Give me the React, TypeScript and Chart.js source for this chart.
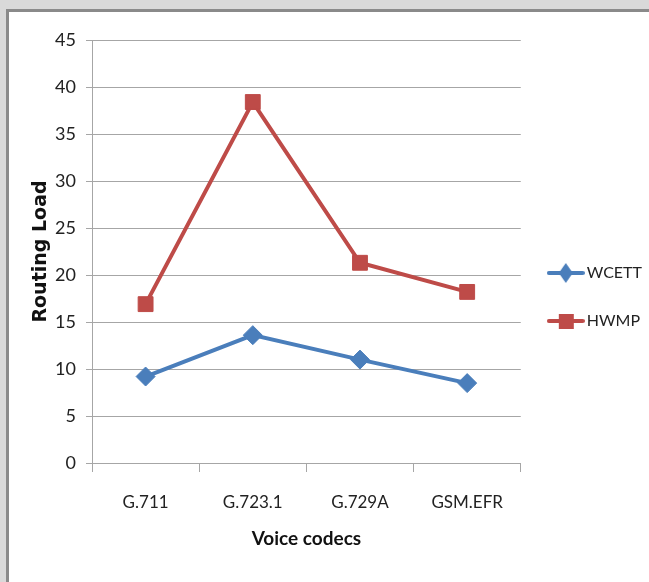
import React, { useEffect, useRef } from "react";
import { Chart, registerables } from "chart.js";

Chart.register(...registerables);

const categories = ["G.711", "G.723.1", "G.729A", "GSM.EFR"];
const wcettValues = [9.2, 13.6, 11.0, 8.5];
const hwmpValues = [16.9, 38.4, 21.3, 18.2];
const yTicks = [0, 5, 10, 15, 20, 25, 30, 35, 40, 45];

const BLUE = "#4A7EBB";
const RED = "#BE4B48";
const GRID = "#a6a6a6";
const FONT = "Lato, 'Liberation Sans', sans-serif";

function legendIcon(color: string, marker: "diamond" | "square"): HTMLCanvasElement {
  const c = document.createElement("canvas");
  c.width = 38;
  c.height = 22;
  const ctx = c.getContext("2d")!;
  ctx.strokeStyle = color;
  ctx.lineWidth = 4;
  ctx.lineCap = "round";
  ctx.beginPath();
  ctx.moveTo(2, 11);
  ctx.lineTo(36, 11);
  ctx.stroke();
  ctx.fillStyle = color;
  ctx.beginPath();
  if (marker === "diamond") {
    ctx.moveTo(19, 1);
    ctx.lineTo(26, 11);
    ctx.lineTo(19, 21);
    ctx.lineTo(12, 11);
    ctx.closePath();
  } else {
    ctx.rect(12, 4, 15, 15);
  }
  ctx.fill();
  return c;
}

export default function App() {
  const canvasRef = useRef<HTMLCanvasElement | null>(null);

  useEffect(() => {
    if (!canvasRef.current) return;
    const icons = [legendIcon(BLUE, "diamond"), legendIcon(RED, "square")];
    const chart = new Chart(canvasRef.current, {
      type: "line",
      data: {
        labels: categories,
        datasets: [
          {
            label: "WCETT",
            data: wcettValues,
            borderColor: BLUE,
            backgroundColor: BLUE,
            borderWidth: 4,
            pointStyle: "rectRot",
            pointRadius: 9.5,
            pointHoverRadius: 9.5,
            pointBorderWidth: 1,
            tension: 0,
          },
          {
            label: "HWMP",
            data: hwmpValues,
            borderColor: RED,
            backgroundColor: RED,
            borderWidth: 4,
            pointStyle: "rect",
            pointRadius: 10.5,
            pointHoverRadius: 10.5,
            pointBorderWidth: 1,
            tension: 0,
          },
        ],
      },
      options: {
        animation: false,
        responsive: true,
        maintainAspectRatio: false,
        layout: { padding: { top: 0, left: 0, right: -3, bottom: 0 } },
        plugins: {
          tooltip: { enabled: false },
          legend: {
            position: "right",
            labels: {
              usePointStyle: true,
              pointStyleWidth: 26,
              padding: 32,
              color: "#222",
              font: { family: FONT, size: 16 },
              generateLabels: (ch: any) =>
                ch.data.datasets.map((ds: any, i: number) => ({
                  text: ds.label,
                  fillStyle: ds.backgroundColor,
                  strokeStyle: ds.borderColor,
                  lineWidth: 0,
                  pointStyle: icons[i],
                  hidden: false,
                  datasetIndex: i,
                  fontColor: "#222",
                })),
            },
          },
        },
        scales: {
          x: {
            type: "category",
            offset: true,
            afterFit: (s: any) => {
              s.height = 119;
            },
            grid: {
              offset: true,
              drawOnChartArea: false,
              color: GRID,
              tickLength: 9,
            },
            border: { color: GRID, width: 1 },
            ticks: {
              color: "#222",
              padding: 20,
              font: { family: FONT, size: 17 },
              maxRotation: 0,
            },
            title: {
              display: true,
              text: "Voice codecs",
              color: "#111",
              font: { family: FONT, size: 19, weight: "bold" },
              padding: { top: 0, bottom: 32 },
            },
          },
          y: {
            min: 0,
            max: 45,
            afterFit: (s: any) => {
              s.width = 83;
              s.paddingTop = 28;
            },
            afterBuildTicks: (s: any) => {
              s.ticks = yTicks.map((v) => ({ value: v }));
            },
            grid: { color: GRID, tickLength: 6 },
            border: { color: GRID, width: 1 },
            ticks: {
              color: "#222",
              padding: 10,
              font: { family: FONT, size: 18 },
            },
            title: {
              display: true,
              text: "Routing Load",
              color: "#111",
              font: { family: "'DejaVu Sans', sans-serif", size: 19, weight: "bold" },
              padding: { top: 21, bottom: 0 },
            },
          },
        },
      },
    });
    return () => chart.destroy();
  }, []);

  return (
    <div style={{ position: "fixed", left: 0, top: 0, right: 0, bottom: 0, background: "#d9d9d9", overflow: "hidden" }}>
      <div
        style={{
          position: "absolute",
          left: 6,
          top: 9,
          right: 0,
          bottom: 0,
          background: "#ffffff",
          borderLeft: "3px solid #8a8a8a",
          borderTop: "3px solid #8a8a8a",
        }}
      >
        <div style={{ position: "absolute", left: 0, top: 0, width: 640, height: 570 }}>
          <canvas ref={canvasRef} />
        </div>
      </div>
    </div>
  );
}
